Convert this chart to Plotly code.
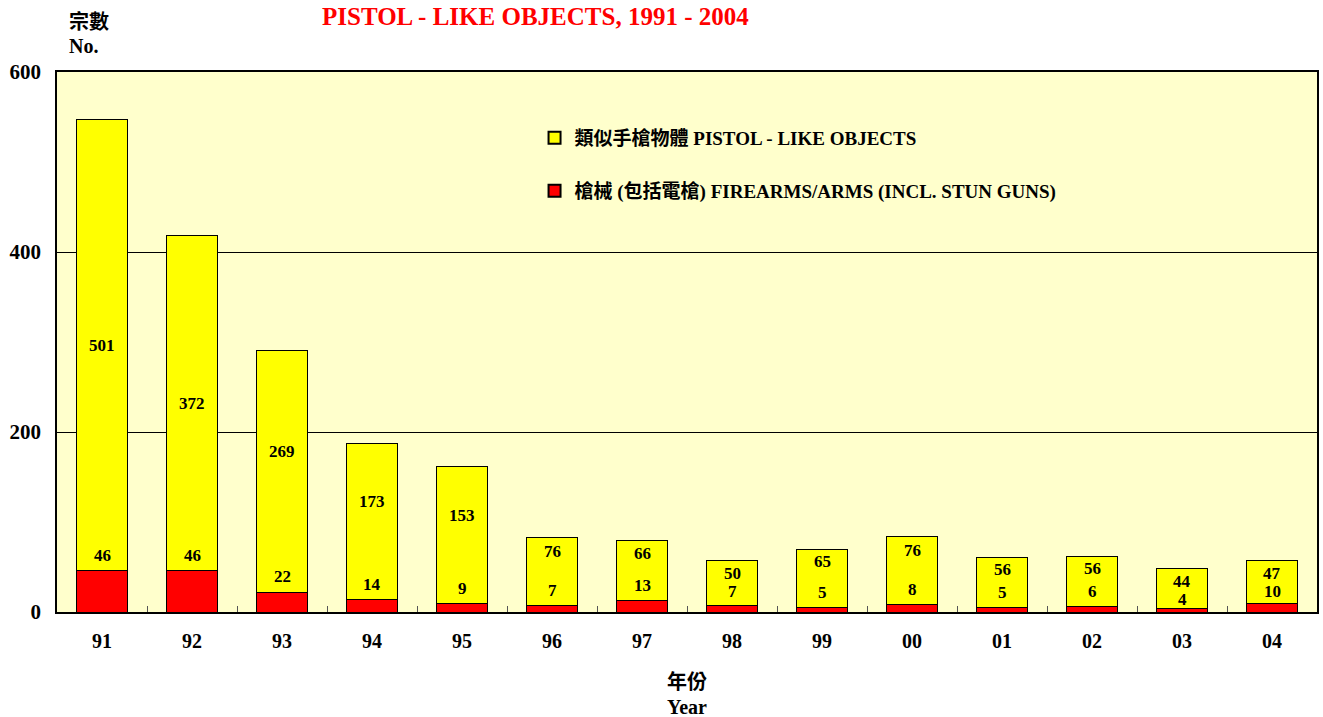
import plotly.graph_objects as go

years = ["91", "92", "93", "94", "95", "96", "97", "98", "99", "00", "01", "02", "03", "04"]
firearms = [46, 46, 22, 14, 9, 7, 13, 7, 5, 8, 5, 6, 4, 10]
pistol_like = [501, 372, 269, 173, 153, 76, 66, 50, 65, 76, 56, 56, 44, 47]

name_pistol = "類似手槍物體 PISTOL - LIKE OBJECTS"
name_fire = "槍械 (包括電槍) FIREARMS/ARMS (INCL. STUN GUNS)"
title_text = "PISTOL - LIKE OBJECTS, 1991 - 2004"

FONT = "Liberation Serif, Times New Roman, Noto Sans CJK TC, serif"

fig = go.Figure()
fig.add_trace(go.Bar(
    x=years, y=firearms, name=name_fire,
    marker=dict(color="#FF0000", line=dict(color="#000000", width=1)),
    width=0.556, legend="legend2",
))
fig.add_trace(go.Bar(
    x=years, y=pistol_like, name=name_pistol,
    marker=dict(color="#FFFF00", line=dict(color="#000000", width=1)),
    width=0.556, legend="legend",
))

annotations = []
lab_font = dict(family=FONT, size=17, color="#000000")
for i, (r, p) in enumerate(zip(firearms, pistol_like)):
    total = r + p
    y_yel = r + p / 2 + (22 if p < 300 else 0)
    y_yel = min(y_yel, total - 14)
    y_red = min(r + 17, y_yel - 20)
    annotations.append(dict(x=i, y=y_yel, xref="x", yref="y", text=f"<b>{p}</b>",
                            showarrow=False, font=lab_font, yanchor="middle"))
    annotations.append(dict(x=i, y=y_red, xref="x", yref="y", text=f"<b>{r}</b>",
                            showarrow=False, font=lab_font, yanchor="middle"))

annotations += [
    dict(x=0.380, y=1.102, xref="paper", yref="paper", text=f"<b>{title_text}</b>",
         showarrow=False, font=dict(family=FONT, size=25, color="#FF0000"),
         xanchor="center", yanchor="middle"),
    dict(x=0.0079, y=1.096, xref="paper", yref="paper", text="<b>宗數</b>",
         showarrow=False, font=dict(family="Noto Sans CJK TC", size=20, color="#000000"),
         xanchor="left", yanchor="middle"),
    dict(x=0.0079, y=1.048, xref="paper", yref="paper", text="<b>No.</b>",
         showarrow=False, font=dict(family=FONT, size=20, color="#000000"),
         xanchor="left", yanchor="middle"),
    dict(x=0.5, y=-0.126, xref="paper", yref="paper", text="<b>年份</b>",
         showarrow=False, font=dict(family="Noto Sans CJK TC", size=20, color="#000000"),
         xanchor="center", yanchor="middle"),
    dict(x=0.5, y=-0.176, xref="paper", yref="paper", text="<b>Year</b>",
         showarrow=False, font=dict(family=FONT, size=20, color="#000000"),
         xanchor="center", yanchor="middle"),
]

legend_common = dict(
    xanchor="left", yanchor="middle", bgcolor="rgba(0,0,0,0)",
    font=dict(family=FONT, size=19, color="#000000", weight="bold"),
    itemsizing="constant", borderwidth=0,
)

fig.update_layout(
    width=1323, height=717,
    margin=dict(l=57, r=6, t=72, b=105, autoexpand=False),
    paper_bgcolor="#FFFFFF",
    plot_bgcolor="#FFFFCC",
    barmode="stack",
    bargap=0.444,
    annotations=annotations,
    legend=dict(x=0.379, y=0.878, **legend_common),
    legend2=dict(x=0.379, y=0.780, **legend_common),
    showlegend=True,
    xaxis=dict(
        type="category", showline=True, linecolor="#000000", linewidth=1.5, mirror=True,
        ticks="inside", tickson="boundaries", ticklen=6, tickcolor="#555555", tickwidth=1,
        tickfont=dict(family=FONT, size=20, color="#000000", weight="bold"),
        ticklabelstandoff=10, showgrid=False, automargin=False, tickangle=0,
        range=[-0.5, len(years) - 0.5],
    ),
    yaxis=dict(
        range=[0, 600], tickvals=[0, 200, 400, 600], showline=True, linecolor="#000000",
        linewidth=1.5, mirror=True, showgrid=True, gridcolor="#000000", gridwidth=1,
        zeroline=False, ticks="", ticklabelstandoff=10, automargin=False,
        tickfont=dict(family=FONT, size=21, color="#000000", weight="bold"),
    ),
)

fig.write_html("out.html", config={"displayModeBar": False},
               post_script="document.body.style.margin='0';document.body.style.overflow='hidden';")
